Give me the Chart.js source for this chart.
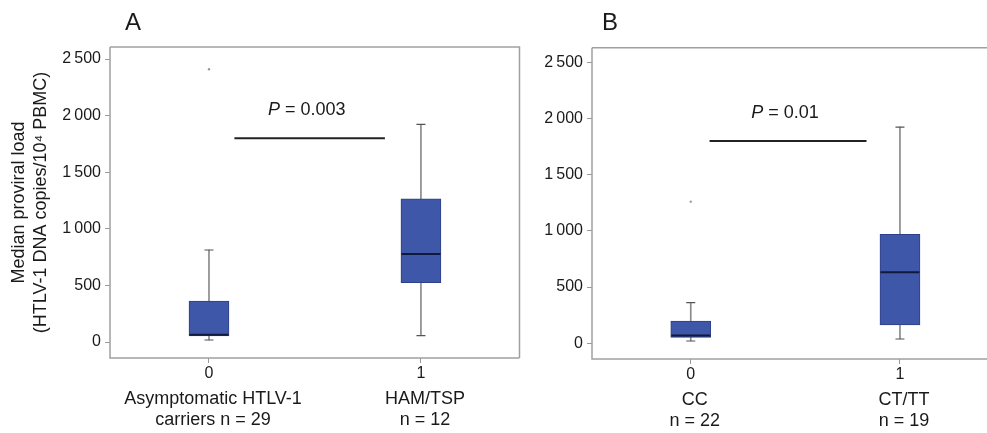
<!DOCTYPE html>
<html>
<head>
<meta charset="utf-8">
<script src="https://cdn.jsdelivr.net/npm/chart.js@4.4.1/dist/chart.umd.min.js"></script>
<style>
  html, body { margin: 0; padding: 0; background: #fff; }
  #wrap { position: relative; width: 987px; height: 433px; overflow: hidden; }
  canvas { position: absolute; top: 0; }
  #chartA { left: 0; }
  #chartB { left: 525px; }
</style>
</head>
<body>
<div id="wrap">
  <canvas id="chartA" width="525" height="433"></canvas>
  <canvas id="chartB" width="462" height="433"></canvas>
</div>
<script>
const FONT = "'Liberation Sans', Arial, Helvetica, sans-serif";

// shared axis ticks
const yTicks = [0, 500, 1000, 1500, 2000, 2500];
const yTickLabels = ["0", "500", "1\u2009000", "1\u2009500", "2\u2009000", "2\u2009500"];
const xTicks = [0, 1];
const xTickLabels = ["0", "1"];

// panel A: asymptomatic carriers vs HAM/TSP
const groupsA = [["Asymptomatic HTLV-1", "carriers n = 29"], ["HAM/TSP", "n = 12"]];
const whiskerLowA = [18, 56];
const q1A = [55, 524];
const medianA = [65, 777];
const q3A = [362, 1266];
const whiskerHighA = [813, 1923];
const outliersA = [[2410], []];
const sigSpanA = [0.12, 0.83];
const sigLevelA = 1800;
const pValueA = "0.003";

// panel B: CC vs CT/TT
const groupsB = [["CC", "n = 22"], ["CT/TT", "n = 19"]];
const whiskerLowB = [20, 38];
const q1B = [53, 163];
const medianB = [68, 632];
const q3B = [198, 970];
const whiskerHighB = [361, 1924];
const outliersB = [[1260], []];
const sigSpanB = [0.09, 0.84];
const sigLevelB = 1800;
const pValueB = "0.01";

const pTextLevel = 2050;

const boxFrame = {
  id: "boxFrame",
  afterDraw(chart, args, opts) {
    const { ctx, chartArea: a } = chart;
    ctx.save();
    ctx.strokeStyle = "#a0a0a0";
    ctx.lineWidth = 1.5;
    ctx.beginPath();
    ctx.moveTo(a.left, a.top);
    ctx.lineTo(a.left, a.bottom);
    ctx.lineTo(a.right + (opts.right ? 0 : 5), a.bottom);
    ctx.moveTo(a.left, a.top);
    ctx.lineTo(a.right + (opts.right ? 0 : 5), a.top);
    if (opts.right) {
      ctx.lineTo(a.right, a.bottom);
    }
    ctx.stroke();
    ctx.restore();
  }
};

const panelText = {
  id: "panelText",
  afterDraw(chart, args, opts) {
    const ctx = chart.ctx;
    const a = chart.chartArea;
    const xs = chart.scales.x;
    const ys = chart.scales.y;
    ctx.save();
    ctx.fillStyle = "#1a1a1a";
    ctx.textBaseline = "middle";

    ctx.font = "24px " + FONT;
    ctx.textAlign = "left";
    ctx.fillText(opts.letter, opts.letterX, 23);

    ctx.font = "18px " + FONT;
    ctx.textAlign = "center";
    opts.groups.forEach((lines, i) => {
      const px = xs.getPixelForValue(xTicks[i]);
      lines.forEach((line, j) => {
        ctx.fillText(line, px + 4, a.bottom + 41 + j * 21.5);
      });
    });

    const cx = (xs.getPixelForValue(opts.span[0]) + xs.getPixelForValue(opts.span[1])) / 2;
    const cy = ys.getPixelForValue(pTextLevel);
    const rest = " = " + opts.p;
    ctx.font = "italic 18px " + FONT;
    const wP = ctx.measureText("P").width;
    ctx.font = "18px " + FONT;
    const wR = ctx.measureText(rest).width;
    const sx = cx - (wP + wR) / 2 - 3;
    ctx.textAlign = "left";
    ctx.font = "italic 18px " + FONT;
    ctx.fillText("P", sx, cy);
    ctx.font = "18px " + FONT;
    ctx.fillText(rest, sx + wP, cy);
    ctx.restore();
  }
};

function buildPanel(canvasId, p) {
  const caps = [];
  const outs = [];
  p.low.forEach((lo, i) => {
    caps.push({ x: xTicks[i], y: lo });
    caps.push({ x: xTicks[i], y: p.high[i] });
    p.outliers[i].forEach(v => outs.push({ x: xTicks[i], y: v }));
  });

  const ctx = document.getElementById(canvasId).getContext("2d");
  return new Chart(ctx, {
    type: "bar",
    data: {
      datasets: [
        {
          type: "bar",
          data: p.low.map((lo, i) => ({ x: xTicks[i], y: [lo, p.high[i]] })),
          backgroundColor: "#8a8a8a",
          borderWidth: 0,
          barThickness: 1,
          grouped: false,
          order: 6,
        },
        {
          type: "bar",
          data: p.q1.map((v, i) => ({ x: xTicks[i], y: [v, p.q3[i]] })),
          backgroundColor: "#3f57a8",
          borderColor: "#2e408a",
          borderWidth: 1,
          borderSkipped: false,
          barThickness: 40,
          grouped: false,
          order: 5,
        },
        {
          type: "scatter",
          data: p.median.map((v, i) => ({ x: xTicks[i], y: v })),
          pointStyle: "line",
          pointRadius: 19.5,
          pointBorderWidth: 2,
          pointBorderColor: "#111a3a",
          order: 4,
        },
        {
          type: "scatter",
          data: caps,
          pointStyle: "line",
          pointRadius: 4.5,
          pointBorderWidth: 1.2,
          pointBorderColor: "#555555",
          order: 3,
        },
        {
          type: "scatter",
          data: outs,
          pointStyle: "circle",
          pointRadius: 1.2,
          pointBorderWidth: 0,
          pointBackgroundColor: "#9a9a9a",
          order: 2,
        },
        {
          type: "line",
          data: p.span.map(v => ({ x: v, y: p.sigLevel })),
          borderColor: "#222222",
          borderWidth: 2,
          pointRadius: 0,
          order: 1,
        },
      ],
    },
    options: {
      responsive: false,
      animation: false,
      events: [],
      layout: { padding: p.padding, autoPadding: false },
      plugins: {
        legend: { display: false },
        tooltip: { enabled: false },
        boxFrame: { right: p.rightBorder },
        panelText: { letter: p.letter, letterX: p.letterX, groups: p.groups, span: p.span, p: p.pValue },
      },
      scales: {
        x: {
          type: "linear",
          offset: false,
          min: p.xMin,
          max: p.xMax,
          border: { display: false },
          grid: { display: true, drawOnChartArea: false, drawTicks: true, tickLength: 5, color: "#999999", offset: false },
          afterBuildTicks: (scale) => { scale.ticks = xTicks.map(v => ({ value: v })); },
          afterFit: (scale) => { scale.height = p.xAxisHeight; },
          ticks: {
            padding: 1,
            color: "#1a1a1a",
            font: { family: FONT, size: 16 },
            maxRotation: 0,
            callback: (value) => xTickLabels[xTicks.indexOf(value)],
          },
        },
        y: {
          type: "linear",
          min: p.yMin,
          max: p.yMax,
          border: { display: false },
          grid: { display: true, drawOnChartArea: false, drawTicks: true, tickLength: 5, color: "#999999" },
          afterBuildTicks: (scale) => { scale.ticks = yTicks.map(v => ({ value: v })); },
          afterFit: (scale) => { scale.width = p.yAxisWidth; },
          ticks: {
            padding: 4,
            color: "#1a1a1a",
            font: { family: FONT, size: 16 },
            callback: (value) => yTickLabels[yTicks.indexOf(value)],
          },
          title: {
            display: !!p.yTitle,
            text: p.yTitle,
            color: "#1a1a1a",
            font: { family: FONT, size: 18, lineHeight: 22 / 18 },
            padding: { top: 8, bottom: 0 },
          },
        },
      },
    },
    plugins: [boxFrame, panelText],
  });
}

buildPanel("chartA", {
  letter: "A", letterX: 125, groups: groupsA,
  low: whiskerLowA, q1: q1A, median: medianA, q3: q3A, high: whiskerHighA,
  outliers: outliersA, span: sigSpanA, sigLevel: sigLevelA, pValue: pValueA,
  xMin: -0.467, xMax: 1.465, yMin: -141, yMax: 2606,
  padding: { top: 47, right: 5.5, left: 0, bottom: 0 },
  yAxisWidth: 110, xAxisHeight: 75, rightBorder: true,
  yTitle: ["Median proviral load", "(HTLV-1 DNA copies/10\u2074 PBMC)"],
});

buildPanel("chartB", {
  letter: "B", letterX: 77, groups: groupsB,
  low: whiskerLowB, q1: q1B, median: medianB, q3: q3B, high: whiskerHighB,
  outliers: outliersB, span: sigSpanB, sigLevel: sigLevelB, pValue: pValueB,
  xMin: -0.472, xMax: 1.416, yMin: -140, yMax: 2630,
  padding: { top: 47.7, right: 0, left: 0, bottom: 0 },
  yAxisWidth: 67, xAxisHeight: 74, rightBorder: false,
  yTitle: null,
});
</script>
</body>
</html>
